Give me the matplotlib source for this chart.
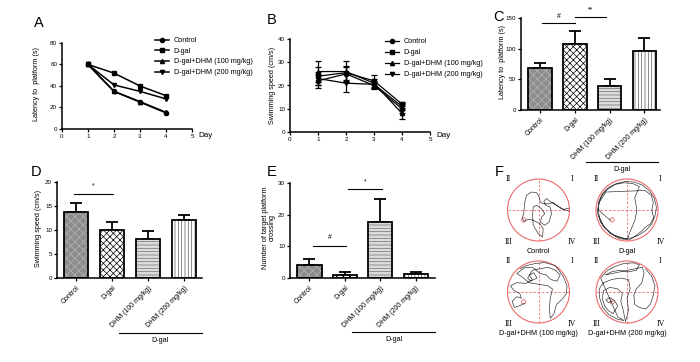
import numpy as np
import matplotlib
matplotlib.use('Agg')
import matplotlib.pyplot as plt
import matplotlib.transforms as mtrans

plt.rcParams['font.family'] = ['Liberation Sans', 'DejaVu Sans']
plt.rcParams['hatch.linewidth'] = 0.5

W, H = 700, 362

# ---- data ----
days = [1, 2, 3, 4]
groups = ['Control', 'D-gal', 'D-gal+DHM (100 mg/kg)', 'D-gal+DHM (200 mg/kg)']
lat_control = [60, 35, 25, 15]
lat_dgal = [60, 52, 40, 31]
lat_dhm100 = [60, 35, 25.5, 15.5]
lat_dhm200 = [60, 41, 35, 28]

spd_control = [22, 25, 20, 10]
spd_dgal = [24, 25.5, 22, 12]
spd_dhm100 = [26, 26, 21, 8]
spd_dhm200 = [23, 21, 20.5, 11]
spd_control_err = [3, 3, 1.5, 2]
spd_dgal_err = [4, 3, 2.5, 1]
spd_dhm100_err = [4.5, 4.5, 2, 2.5]
spd_dhm200_err = [3, 4, 1.5, 1.5]

bar_labels = ['Control', 'D-gal', 'DHM (100 mg/kg)', 'DHM (200 mg/kg)']
latency = [68, 107, 39, 96]
latency_err = [9, 22, 12, 21]
speed = [13.7, 10.1, 8.2, 12.0]
speed_err = [1.9, 1.6, 1.6, 1.2]
crossing = [4.0, 1.0, 17.7, 1.3]
crossing_err = [2.0, 0.8, 7.3, 0.6]

# swim paths, in percent of pool radius
path_control = [(99, 6), (80, 2), (58, 15), (37, 28), (26, 37), (17, 28), (24, 15), (37, 10),
                (42, -12), (34, -39), (20, -49), (6, -39), (10, -23), (20, -12), (10, 4),
                (-6, 15), (-17, 10), (-19, -17), (-17, -49), (-1, -76), (13, -87), (15, -60),
                (4, -44), (-17, -33), (-33, -30), (-47, -37), (-52, -28), (-47, -6), (-44, 26),
                (-39, 47), (-23, 58), (-6, 56), (2, 42), (6, 26), (15, 20), (31, 20), (47, 24),
                (74, 4), (99, -4)]
path_dgal = [(-52, -33), (-60, -28), (-75, -15), (-94, 2), (-90, 30), (-78, 55), (-60, 72),
             (-35, 85), (-5, 92), (25, 90), (50, 80), (72, 62), (88, 38), (95, 8), (90, -20),
             (80, -45), (62, -65), (40, -80), (15, -90), (-10, -92), (-35, -85), (-58, -70),
             (-75, -52), (-88, -28), (-93, 0), (-90, 25), (-68, 58), (58, 63), (78, 48),
             (85, 25), (80, 0), (86, -25), (75, -45), (60, -55), (45, -70), (30, -82),
             (10, -95), (-15, -90), (-45, -80), (-70, -60), (-85, -40), (-95, -10), (-92, 15),
             (-82, 45), (-65, 65), (-40, 82), (-10, 88), (20, 85), (40, 75), (25, 40), (32, 0),
             (25, -35), (12, -65), (0, -96), (-25, -92), (-55, -75), (-78, -50), (-90, -20)]
path_dhm100 = [(-45, -36), (-60, -44), (-78, -50), (-85, -30), (-70, -15), (-55, -20), (-60, -5),
               (-80, 5), (-90, 20), (-70, 30), (-40, 28), (-20, 40), (-30, 55), (-15, 62),
               (-5, 45), (-25, 35), (-35, 45), (-20, 70), (5, 75), (30, 80), (55, 70), (70, 55),
               (60, 35), (40, 40), (25, 55), (5, 60), (-20, 80), (-45, 78), (-70, 60), (-55, 50),
               (-30, 30), (0, 25), (30, 20), (45, 10), (38, -20), (35, -55), (38, -85), (50, -70),
               (58, -40), (75, -25), (90, -5), (92, 20), (80, 50), (55, 85), (20, 95), (-10, 92),
               (-40, 85), (-60, 75)]
path_dhm200 = [(-48, -30), (-60, -34), (-68, -25), (-55, -18), (-40, -28), (-30, -45), (-45, -70),
               (-60, -60), (-72, -45), (-80, -20), (-75, 5), (-55, 15), (-30, 10), (-15, -5),
               (-20, -30), (-12, -60), (-5, -95), (5, -60), (0, -20), (10, 10), (5, 40), (-20, 45),
               (-50, 40), (-75, 30), (-90, 10), (-88, -20), (-78, -50), (-60, -72), (-30, -88),
               (-10, -92), (-30, -80), (-85, 45), (-65, 68), (-40, 82), (-10, 92), (20, 94),
               (40, 88), (30, 70), (5, 65), (-25, 70), (-50, 65), (-70, 55), (50, 80), (55, 60),
               (48, 30), (30, 10), (22, -10), (25, -40), (40, -50), (60, -55), (75, -40),
               (85, -10), (90, 20), (80, 50), (60, 75)]


def rect(x0, y0, x1, y1):
    return [x0 / W, 1 - y1 / H, (x1 - x0) / W, (y1 - y0) / H]


def style(ax):
    for s in ['top', 'right']:
        ax.spines[s].set_visible(False)
    for s in ['left', 'bottom']:
        ax.spines[s].set_linewidth(1.1)
    ax.tick_params(direction='out', length=2.5, width=0.9, labelsize=4.5, pad=1)


def bars(ax, vals, errs):
    x = np.arange(4)
    faces = ['#8c8c8c', 'white', '#dcdcdc', 'white']
    hatches = ['xxxx', 'xxxxx', '-----', '|||||']
    hcols = ['#b4b4b4', 'black', '#6e6e6e', '#5a5a5a']
    for i in range(4):
        ax.bar(x[i], vals[i], 0.68, color=faces[i], hatch=hatches[i], edgecolor=hcols[i],
               linewidth=0, zorder=2)
    ax.bar(x, vals, 0.68, fill=False, edgecolor='black', linewidth=1.3, zorder=3)
    ax.errorbar(x, vals, yerr=[np.zeros(4), errs], fmt='none', ecolor='black',
                elinewidth=1.3, capsize=4.3, capthick=1.3, zorder=1)
    ax.set_xticks(x)
    ax.set_xticklabels(bar_labels, rotation=45, ha='right', rotation_mode='anchor', fontsize=5)
    ax.tick_params(axis='x', length=2.5, pad=2)


def dgal_bracket(ax, x0, x1, y):
    tr = mtrans.blended_transform_factory(ax.transData, ax.transAxes)
    ax.plot([x0, x1], [y, y], color='black', lw=0.8, transform=tr, clip_on=False)
    ax.text((x0 + x1) / 2, y - 0.04, 'D-gal', transform=tr, ha='center', va='top', fontsize=5.2)


def sig(ax, x0, x1, y, ytxt, s):
    ax.plot([x0, x1], [y, y], color='black', lw=0.8, clip_on=False)
    ax.text((x0 + x1) / 2, ytxt, s, ha='center', va='center', fontsize=5)


fig = plt.figure(figsize=(7, 3.62), dpi=100)
markers = ['o', 's', '^', 'v']

# ---- A ----
axA = fig.add_axes(rect(62, 43, 192, 129))
style(axA)
for yv, m, lab in zip([lat_control, lat_dgal, lat_dhm100, lat_dhm200], markers, groups):
    axA.plot(days, yv, color='black', marker=m, markersize=3, lw=1.1, label=lab)
axA.set_xlim(0, 5)
axA.set_ylim(0, 80)
axA.set_xticks([0, 1, 2, 3, 4, 5])
axA.set_yticks([0, 20, 40, 60, 80])
axA.legend(loc='upper left', bbox_to_anchor=(155 / W, 1 - 37 / H), bbox_transform=fig.transFigure,
           frameon=False, fontsize=5.2, handlelength=2, handletextpad=0.6, labelspacing=0.5,
           borderaxespad=0, borderpad=0)
fig.text(198 / W, 1 - 136 / H, 'Day', fontsize=5.8, ha='left', va='center')
fig.text(37 / W, 1 - 84 / H, 'Latency to  platform (s)', rotation=90, ha='center', va='center', fontsize=5.2)

# ---- B ----
axB = fig.add_axes(rect(290, 39, 430, 132))
style(axB)
for yv, ev, m, lab in zip([spd_control, spd_dgal, spd_dhm100, spd_dhm200],
                          [spd_control_err, spd_dgal_err, spd_dhm100_err, spd_dhm200_err],
                          markers, groups):
    axB.errorbar(days, yv, yerr=ev, color='black', marker=m, markersize=3, lw=0.9,
                 elinewidth=0.9, capsize=2, capthick=0.9, label=lab)
axB.set_xlim(0, 5)
axB.set_ylim(0, 40)
axB.set_xticks([0, 1, 2, 3, 4, 5])
axB.set_yticks([0, 10, 20, 30, 40])
hB, lB = axB.get_legend_handles_labels()
axB.legend([h[0] for h in hB], lB, loc='upper left', bbox_to_anchor=(385 / W, 1 - 38 / H),
           bbox_transform=fig.transFigure, frameon=False, fontsize=5.2, handlelength=2,
           handletextpad=0.6, labelspacing=0.55, borderaxespad=0, borderpad=0)
fig.text(436 / W, 1 - 136 / H, 'Day', fontsize=5.8, ha='left', va='center')
fig.text(272 / W, 1 - 85 / H, 'Swimming speed (cm/s)', rotation=90, ha='center', va='center', fontsize=5.2)

# ---- C ----
axC = fig.add_axes(rect(521, 18, 660, 110))
style(axC)
bars(axC, latency, latency_err)
axC.set_xlim(-0.55, 3.45)
axC.set_ylim(0, 150)
axC.set_yticks([0, 50, 100, 150])
sig(axC, 0.06, 1.0, 142, 153, '#')
sig(axC, 1.0, 1.91, 151.5, 163, '**')
dgal_bracket(axC, 1.31, 3.4, -0.565)
fig.text(502 / W, 1 - 62 / H, 'Latency to  platform (s)', rotation=90, ha='center', va='center', fontsize=5.2)

# ---- D ----
axD = fig.add_axes(rect(57, 182, 202, 278))
style(axD)
bars(axD, speed, speed_err)
axD.set_xlim(-0.53, 3.5)
axD.set_ylim(0, 20)
axD.set_yticks([0, 5, 10, 15, 20])
sig(axD, -0.05, 1.03, 17.5, 19.2, '*')
dgal_bracket(axD, 1.19, 3.5, -0.573)
fig.text(38 / W, 1 - 228 / H, 'Swimming speed (cm/s)', rotation=90, ha='center', va='center', fontsize=5.2)

# ---- E ----
axE = fig.add_axes(rect(290, 183, 435, 278))
style(axE)
bars(axE, crossing, crossing_err)
axE.set_xlim(-0.55, 3.54)
axE.set_ylim(0, 30)
axE.set_yticks([0, 10, 20, 30])
sig(axE, 0.1, 1.03, 10.1, 12.8, '#')
sig(axE, 1.08, 2.05, 28.1, 30.4, '*')
dgal_bracket(axE, 1.2, 3.54, -0.568)
fig.text(269 / W, 1 - 228 / H, 'Number of target platform\ncrossing', rotation=90,
         ha='center', va='center', fontsize=5.2, multialignment='center', linespacing=1.1)

# ---- F ----
pools = [(538.5, 210, path_control, 'Control'),
         (627, 210, path_dgal, 'D-gal'),
         (538.5, 292, path_dhm100, 'D-gal+DHM (100 mg/kg)'),
         (627, 292, path_dhm200, 'D-gal+DHM (200 mg/kg)')]
R = 31
for cx, cy, path, lab in pools:
    s = 1.05 * R
    ax = fig.add_axes(rect(cx - s, cy - s, cx + s, cy + s))
    ax.set_xlim(-105, 105)
    ax.set_ylim(-105, 105)
    ax.axis('off')
    ax.add_patch(plt.Circle((0, 0), 100, fill=False, color='#ec6a6a', lw=0.8))
    ax.plot([-100, 100], [0, 0], color='#ec6a6a', lw=0.6, ls=(0, (3, 2)))
    ax.plot([0, 0], [-100, 100], color='#ec6a6a', lw=0.6, ls=(0, (3, 2)))
    ax.add_patch(plt.Circle((-48, -32), 7, fill=False, color='#ec6a6a', lw=0.6))
    px, py = zip(*path)
    ax.plot(px, py, color='#3a3a3a', lw=0.5)
    for t, tx, ty in [('II', -98, 100), ('I', 108, 100), ('III', -98, -103), ('IV', 108, -103)]:
        ax.text(tx, ty, t, fontsize=5.8, family=['Liberation Serif', 'DejaVu Serif'],
                ha='center', va='center', clip_on=False)
    ax.text(0, -135, lab, fontsize=5.2, ha='center', va='center', clip_on=False)

# panel letters
for t, x, y in [('A', 39, 23), ('B', 272, 20), ('C', 499, 17), ('D', 36, 172), ('E', 272, 172), ('F', 499, 172)]:
    fig.text(x / W, 1 - y / H, t, fontsize=10.5, ha='center', va='center')

fig.savefig('out.png', dpi=100)
